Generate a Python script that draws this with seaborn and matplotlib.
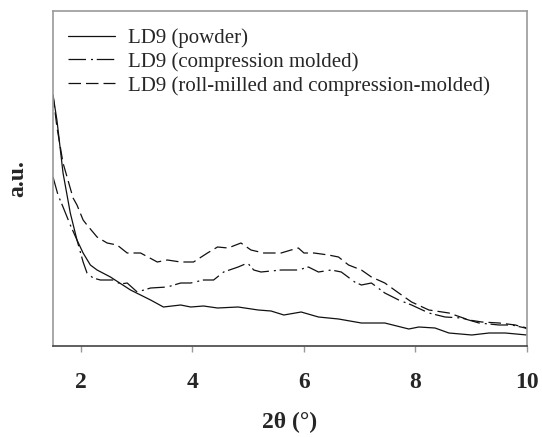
import numpy as np
import pandas as pd
import matplotlib
matplotlib.use("Agg")
import matplotlib.pyplot as plt
import seaborn as sns

# ---- data (arbitrary units) ----
powder_x = [1.50, 1.57, 1.68, 1.81, 1.93, 2.04, 2.17, 2.29, 2.53, 2.89, 3.25, 3.48, 3.79,
            3.97, 4.20, 4.45, 4.82, 5.18, 5.41, 5.64, 5.95, 6.26, 6.62, 7.03, 7.45, 7.88,
            8.06, 8.35, 8.60, 9.01, 9.32, 9.61, 10.0]
powder_y = [251, 226, 173, 133, 106, 93, 81, 76, 69, 56, 46, 39, 41,
            39, 40, 38, 39, 36, 35, 31, 34, 29, 27, 23, 23, 17,
            19, 18, 13, 11, 13, 13, 11]

comp_x = [1.50, 1.59, 1.68, 1.81, 1.93, 2.04, 2.11, 2.22, 2.35, 2.58, 2.71, 2.83, 3.01,
          3.25, 3.55, 3.79, 3.97, 4.20, 4.38, 4.56, 4.82, 4.99, 5.10, 5.23, 5.59, 5.90,
          6.08, 6.26, 6.49, 6.67, 6.91, 7.03, 7.21, 7.45, 7.70, 7.93, 8.24, 8.53, 8.83,
          9.14, 9.50, 9.73, 9.97, 10.0]
comp_y = [169, 151, 139, 121, 106, 84, 73, 68, 66, 66, 62, 63, 54,
          58, 59, 63, 63, 66, 66, 74, 79, 83, 76, 74, 76, 76,
          79, 74, 76, 74, 64, 61, 63, 53, 46, 41, 33, 29, 28,
          23, 21, 21, 18, 17]

roll_x = [1.50, 1.57, 1.68, 1.86, 1.93, 2.04, 2.11, 2.29, 2.47, 2.65, 2.83, 3.07, 3.37,
          3.55, 3.79, 4.02, 4.27, 4.45, 4.64, 4.87, 5.05, 5.28, 5.59, 5.77, 5.90, 6.00,
          6.18, 6.44, 6.62, 6.80, 7.03, 7.21, 7.45, 7.70, 7.93, 8.24, 8.60, 8.96, 9.19,
          9.50, 9.79, 10.0]
roll_y = [251, 219, 183, 148, 141, 126, 121, 109, 103, 101, 93, 93, 84,
          86, 84, 84, 93, 99, 98, 103, 96, 93, 93, 96, 98, 93,
          93, 91, 89, 81, 76, 69, 63, 53, 44, 36, 33, 26, 24,
          23, 21, 18]

labels = ["LD9 (powder)", "LD9 (compression molded)",
          "LD9 (roll-milled and compression-molded)"]

frames = []
for lab, xs, ys in zip(labels, [powder_x, comp_x, roll_x], [powder_y, comp_y, roll_y]):
    frames.append(pd.DataFrame({"x": xs, "y": ys, "sample": lab}))
df = pd.concat(frames, ignore_index=True)

sns.set_theme(style="white")
plt.rcParams["font.family"] = ["Liberation Serif", "DejaVu Serif"]

fig = plt.figure(figsize=(5.42, 4.37), dpi=100)
ax = fig.add_axes([53 / 542, 1 - 346 / 437, 474 / 542, 335 / 437])

styles = {
    labels[0]: "-",
    labels[1]: (0, (14, 4, 1.6, 3)),
    labels[2]: (0, (10, 4)),
}
for lab in labels:
    sub = df[df["sample"] == lab]
    sns.lineplot(data=sub, x="x", y="y", ax=ax, color="#111111", linewidth=0.9,
                 linestyle=styles[lab], label=lab, estimator=None, sort=False)

ax.set_xlim(1.5, 10)
ax.set_ylim(0, 335)
ax.set_xticks([2, 4, 6, 8, 10])
ax.set_xticklabels(["2", "4", "6", "8", "10"])
ax.set_yticks([])
ax.tick_params(axis="x", length=4, width=1, color="#999999", direction="out",
               labelsize=17, pad=15, bottom=True)
for t in ax.get_xticklabels():
    t.set_fontweight("bold")

for side in ["top", "right", "left"]:
    ax.spines[side].set_color("#9a9a9a")
    ax.spines[side].set_linewidth(1.2)
ax.spines["bottom"].set_color("#444444")
ax.spines["bottom"].set_linewidth(1.2)

ax.set_xlabel("2\u03b8 (\u00b0)", fontsize=17, fontweight="bold", labelpad=13)
ax.set_ylabel("a.u.", fontsize=17, fontweight="bold", labelpad=18)

leg = ax.legend(loc="upper left", bbox_to_anchor=(0.032, 0.949), frameon=False,
                fontsize=15, handlelength=2.25, handletextpad=0.6,
                labelspacing=0.2, borderpad=0, borderaxespad=0)
for line in leg.get_lines():
    line.set_linewidth(0.9)

fig.savefig("out.png", dpi=100)
